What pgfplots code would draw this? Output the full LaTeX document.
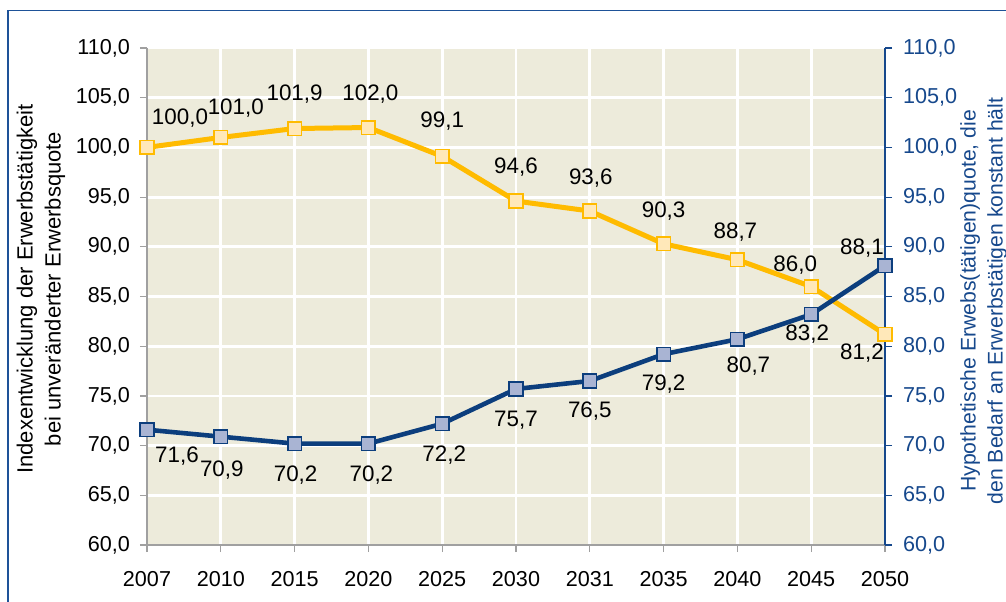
\documentclass[border=0pt]{standalone}
\usepackage{pgfplots}
\usepackage{pgfplotstable}
\pgfplotsset{compat=1.18}
\usepackage{fontspec}
\setmainfont{Liberation Sans}
\definecolor{bgc}{RGB}{237,235,219}
\definecolor{ylw}{RGB}{255,187,0}
\definecolor{ylwfill}{RGB}{255,232,185}
\definecolor{blu}{RGB}{12,62,125}
\definecolor{blufill}{RGB}{169,180,211}
\definecolor{axblue}{RGB}{22,72,140}
\definecolor{frameblue}{RGB}{30,82,152}
\definecolor{axgray}{RGB}{160,160,160}
\pgfkeys{/pgf/number format/.cd,fixed,fixed zerofill,precision=1,use comma,assume math mode=true}

\pgfplotstableread{
x y dx dy
0 100.0 16.5 14.5
1 101.0 7.5 14.75
2 101.9 0 17
3 102.0 1 16.75
4 99.1 0 17.5
5 94.6 0 17
6 93.6 0.5 16.5
7 90.3 0 16.5
8 88.7 -1 14
9 86.0 -8 10.75
10 81.2 -11.5 -9.5
}\yellowdata

\pgfplotstableread{
x y dx dy
0 71.6 15 -13
1 70.9 0.5 -16.5
2 70.2 0.5 -15.5
3 70.2 1.5 -15.5
4 72.2 1 -15.5
5 75.7 0 -15.5
6 76.5 0 -15
7 79.2 0 -15
8 80.7 5.5 -13.5
9 83.2 -2 -10
10 88.1 -11.5 9
}\bluedata

\begin{document}
\begin{tikzpicture}
\path[use as bounding box] (-73.5pt,-28pt) rectangle (429.5pt,272.5pt);
\draw[frameblue, line width=0.75pt] (-69.5pt,-30pt) -- (-69.5pt,267.2pt) -- (431pt,267.2pt);
\begin{axis}[
  at={(0,0)}, anchor=south west,
  scale only axis, width=369pt, height=248.5pt,
  xmin=0, xmax=10, ymin=60, ymax=110,
  axis x line*=bottom, axis y line*=left,
  axis line style={axgray, line width=1pt, -},
  axis background/.style={fill=bgc},
  xtick={0,...,10},
  xticklabels={2007,2010,2015,2020,2025,2030,2031,2035,2040,2045,2050},
  ytick={60,65,...,110},
  grid=major,
  major grid style={white, line width=1.4pt},
  tick align=outside,
  major tick length=3.5pt,
  tick style={axgray, line width=0.6pt},
  ticklabel style={font=\fontsize{10.8}{12}\selectfont, text=black},
  xticklabel style={yshift=-6pt},
  yticklabel style={xshift=-1.5pt},
  every axis y label/.style={at={(axis description cs:-0.1436,0.5151)}, anchor=center, rotate=90, align=center, font=\fontsize{11}{14}\selectfont},
  ylabel={Indexentwicklung der Erwerbstätigkeit\\bei unveränderter Erwerbsquote},
]
\end{axis}
\begin{axis}[
  at={(0,0)}, anchor=south west,
  scale only axis, width=369pt, height=248.5pt,
  xmin=0, xmax=10, ymin=60, ymax=110,
  axis x line=none, axis y line*=right,
  axis line style={axblue, line width=1pt, -},
  ytick={60,65,...,110},
  tick align=outside,
  major tick length=3.5pt,
  tick style={axblue, line width=0.6pt},
  ticklabel style={font=\fontsize{10.8}{12}\selectfont, text=axblue},
  yticklabel style={xshift=2pt},
  every axis y label/.style={at={(axis description cs:1.1335,0.491)}, anchor=center, rotate=90, align=center, text=axblue, font=\fontsize{10.6}{13.5}\selectfont},
  ylabel={Hypothetische Erwebs(tätigen)quote, die\\den Bedarf an Erwerbstätigen konstant hält},
  clip=false,
]
\addplot[ylw, line width=2.5pt, mark=square*, mark size=3.4pt,
  mark options={fill=ylwfill, draw=ylw, line width=0.8pt},
  point meta=explicit,
  visualization depends on={\thisrow{dx} \as \myDX},
  visualization depends on={\thisrow{dy} \as \myDY},
  nodes near coords,
  every node near coord/.append style={anchor=center, text=black, font=\fontsize{11.2}{12}\selectfont, xshift=\myDX pt, yshift=\myDY pt},
] table[x=x, y=y, meta=y] {\yellowdata};
\addplot[blu, line width=2.3pt, mark=square*, mark size=3.4pt,
  mark options={fill=blufill, draw=blu, line width=0.8pt},
  point meta=explicit,
  visualization depends on={\thisrow{dx} \as \myDX},
  visualization depends on={\thisrow{dy} \as \myDY},
  nodes near coords,
  every node near coord/.append style={anchor=center, text=black, font=\fontsize{11.2}{12}\selectfont, xshift=\myDX pt, yshift=\myDY pt},
] table[x=x, y=y, meta=y] {\bluedata};
\end{axis}
\end{tikzpicture}
\end{document}
